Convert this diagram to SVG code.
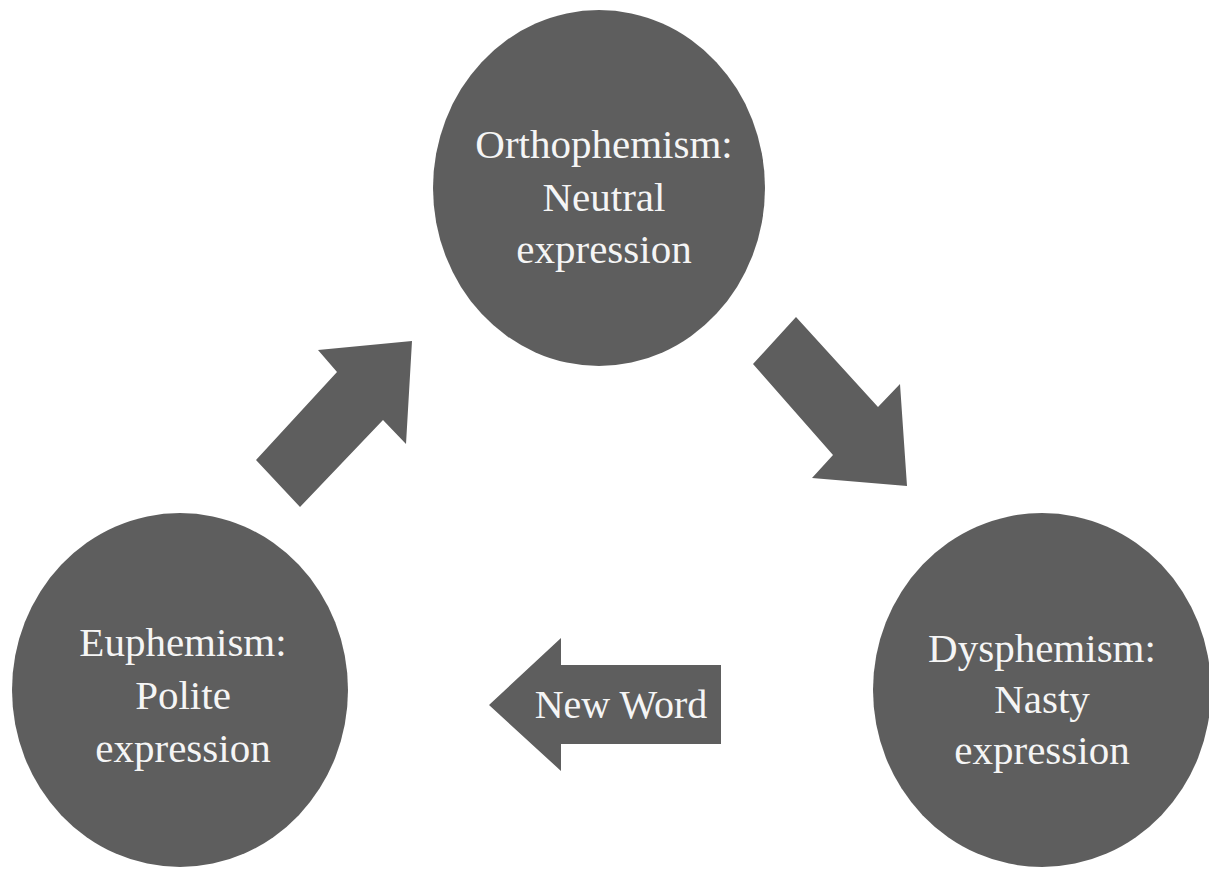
<svg xmlns="http://www.w3.org/2000/svg" width="1209" height="870" viewBox="0 0 1209 870">
<style>
.node{fill:#5e5e5e}
.arrow{fill:#5e5e5e}
.lbl{font-family:"Liberation Serif","DejaVu Serif",serif;font-size:41px;fill:#f5f5f5;text-anchor:middle}
</style>
<rect width="1209" height="870" fill="#ffffff"/>
<g id="connectors">
<polygon id="arrow-eu-ortho" class="arrow" points="256,460 300,507 383,420 406,444 412,341 318,350 337,372"/>
<polygon id="arrow-ortho-dys" class="arrow" points="753,364 796,317 878,407 900,384 907,486 812,478 833,455"/>
<g id="arrow-dys-eu">
<polygon class="arrow" points="489,705 561,638 561,665 721,665 721,744 561,744 561,771"/>
<text class="lbl" x="621" y="718" style="font-size:40px">New Word</text>
</g>
</g>
<g id="node-ortho">
<ellipse class="node" cx="599" cy="188" rx="166" ry="178"/>
<text class="lbl" x="604" y="158">Orthophemism:</text>
<text class="lbl" x="604" y="211">Neutral</text>
<text class="lbl" x="604" y="263">expression</text>
</g>
<g id="node-eu">
<ellipse class="node" cx="180" cy="690" rx="168" ry="177"/>
<text class="lbl" x="183" y="656">Euphemism:</text>
<text class="lbl" x="183" y="709">Polite</text>
<text class="lbl" x="183" y="762">expression</text>
</g>
<g id="node-dys">
<ellipse class="node" cx="1042" cy="690" rx="169" ry="177"/>
<text class="lbl" x="1042" y="662">Dysphemism:</text>
<text class="lbl" x="1042" y="713">Nasty</text>
<text class="lbl" x="1042" y="764">expression</text>
</g>
</svg>
